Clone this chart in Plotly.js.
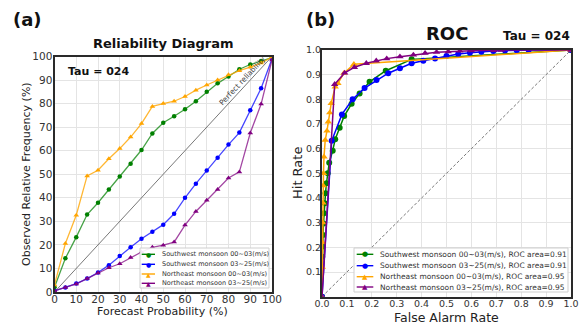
<!DOCTYPE html>
<html>
<head>
<meta charset="utf-8">
<script src="https://cdn.plot.ly/plotly-3.0.1.min.js"></script>
<style>html,body{margin:0;padding:0;background:#fff;}#chart{width:588px;height:324px;}</style>
</head>
<body>
<div id="chart"></div>
<script>
// ---------- data ----------
const seriesNames = ['Southwest monsoon 00~03(m/s)', 'Southwest monsoon 03~25(m/s)', 'Northeast monsoon 00~03(m/s)', 'Northeast monsoon 03~25(m/s)'];
const rocAreas = ['0.91', '0.91', '0.95', '0.95'];

// Reliability diagram (forecast probability %, observed relative frequency %)
const relProb = [0, 5, 10, 15, 20, 25, 30, 35, 40, 45, 50, 55, 60, 65, 70, 75, 80, 85, 90, 95, 100];
const relSW0003 = [2, 14.3, 23.3, 32.9, 37.9, 43.5, 49.0, 54.5, 60.3, 67.3, 71.9, 74.6, 77.6, 81.0, 85.0, 88.6, 91.5, 94.6, 96.6, 98.1, 99.5];
const relSW0325 = [0.5, 1.9, 3.6, 5.7, 8.3, 11.4, 15.3, 19.0, 22.6, 25.6, 28.6, 33.2, 40.0, 46.0, 51.6, 57.0, 62.6, 67.7, 77.2, 86.5, 99.0];
const relNE0003 = [3, 20.6, 32.6, 49.3, 51.7, 56.6, 60.9, 65.8, 71.5, 78.8, 80.0, 81.0, 83.0, 85.7, 87.9, 90.0, 92.2, 94.0, 95.5, 97.2, 99.8];
const relNE0325 = [0.5, 1.9, 3.4, 5.7, 8.1, 10.3, 12.0, 14.6, 17.0, 19.0, 19.9, 21.2, 28.4, 34.2, 39.0, 43.5, 48.4, 51.0, 67.5, 79.8, 98.5];

// ROC curves (false alarm rate, hit rate)
const rocFarSW0003 = [0, 0.001, 0.002, 0.004, 0.006, 0.008, 0.011, 0.014, 0.018, 0.023, 0.029, 0.043, 0.053, 0.071, 0.089, 0.119, 0.151, 0.191, 0.256, 0.36, 1.0];
const rocHitSW0003 = [0, 0.162, 0.203, 0.25, 0.297, 0.338, 0.379, 0.419, 0.46, 0.5, 0.543, 0.592, 0.638, 0.685, 0.732, 0.782, 0.824, 0.871, 0.916, 0.962, 1.0];
const rocFarSW0325 = [0, 0.039, 0.08, 0.123, 0.171, 0.219, 0.266, 0.313, 0.36, 0.407, 0.454, 0.5, 0.547, 0.594, 0.64, 0.688, 0.735, 0.782, 0.83, 1.0];
const rocHitSW0325 = [0, 0.632, 0.739, 0.80, 0.846, 0.878, 0.906, 0.926, 0.946, 0.956, 0.966, 0.976, 0.984, 0.989, 0.993, 0.996, 0.998, 0.999, 1.0, 1.0];
const rocFarNE0003 = [0, 0.001, 0.002, 0.003, 0.004, 0.005, 0.006, 0.008, 0.013, 0.02, 0.025, 0.031, 0.037, 0.053, 0.064, 0.088, 0.128, 1.0];
const rocHitNE0003 = [0, 0.12, 0.22, 0.3, 0.38, 0.45, 0.5, 0.567, 0.635, 0.672, 0.709, 0.746, 0.784, 0.851, 0.865, 0.906, 0.942, 1.0];
const rocFarNE0325 = [0, 0.051, 0.091, 0.13, 0.178, 0.218, 0.26, 0.313, 0.367, 0.414, 0.46, 0.507, 0.554, 0.6, 0.69, 0.72, 1.0];
const rocHitNE0325 = [0, 0.861, 0.907, 0.93, 0.946, 0.956, 0.965, 0.973, 0.98, 0.987, 0.991, 0.993, 0.996, 0.997, 0.999, 1.0, 1.0];

const relTicks = [0, 10, 20, 30, 40, 50, 60, 70, 80, 90, 100];
const rocXTicks = [0, 0.1, 0.2, 0.3, 0.4, 0.5, 0.6, 0.7, 0.8, 0.9, 1.0];
const rocYTicks = [0.1, 0.2, 0.3, 0.4, 0.5, 0.6, 0.7, 0.8, 0.9, 1.0];

// ---------- styles ----------
const colors = ['#008000', '#0000ff', '#ffa500', '#800080'];
const lineColorsRel = ['rgba(0,128,0,0.72)', 'rgba(0,0,255,0.72)', 'rgba(255,165,0,0.8)', 'rgba(128,0,128,0.72)'];
const symbols = ['circle', 'circle', 'triangle-up', 'triangle-up'];
const glyphs = ['\u25CF', '\u25CF', '\u25B2', '\u25B2'];

const W = 588, H = 324;
const px = v => v / W;
const py = v => 1 - v / H;
const FONT = 'DejaVu Sans';

const relY = [relSW0003, relSW0325, relNE0003, relNE0325];
const rocX = [rocFarSW0003, rocFarSW0325, rocFarNE0003, rocFarNE0325];
const rocY = [rocHitSW0003, rocHitSW0325, rocHitNE0003, rocHitNE0325];

const traces = [];
relY.forEach((ys, i) => {
  traces.push({
    x: relProb, y: ys, type: 'scatter', mode: 'lines+markers', name: seriesNames[i],
    xaxis: 'x', yaxis: 'y', showlegend: false,
    line: {color: lineColorsRel[i], width: 1.3},
    marker: {color: colors[i], size: symbols[i] === 'circle' ? 4.5 : 5, symbol: symbols[i]}
  });
});
rocX.forEach((xs, i) => {
  traces.push({
    x: xs, y: rocY[i], type: 'scatter', mode: 'lines+markers',
    name: seriesNames[i] + ', ROC area=' + rocAreas[i],
    xaxis: 'x2', yaxis: 'y2', showlegend: false,
    line: {color: colors[i], width: 1.5},
    marker: {color: colors[i], size: symbols[i] === 'circle' ? 6 : 6.5, symbol: symbols[i]}
  });
});

const axisCommon = {
  showline: true, mirror: true, linecolor: '#2a2a2a', linewidth: 2,
  showgrid: true, gridcolor: '#e4e4e4', gridwidth: 1, zeroline: false,
  ticks: '', fixedrange: true
};

const shapes = [
  // perfect reliability / no-skill diagonals
  {type: 'line', xref: 'x', yref: 'y', x0: 0, y0: 0, x1: 100, y1: 100, layer: 'between',
   line: {color: '#555', width: 0.8}},
  {type: 'line', xref: 'x2', yref: 'y2', x0: 0, y0: 0, x1: 1, y1: 1, layer: 'between',
   line: {color: '#555', width: 0.8, dash: '3px,2px'}}
];

const annotations = [
  {text: '(a)', x: px(27.5), y: py(19.5), font: {size: 18, weight: 'bold'}},
  {text: '(b)', x: px(320), y: py(19.5), font: {size: 18, weight: 'bold'}},
  {text: 'Reliability Diagram', x: px(163), y: py(43), font: {size: 13, weight: 'bold'}},
  {text: 'ROC', x: px(446.7), y: py(33.7), font: {size: 18, weight: 'bold'}},
  {text: 'Tau = 024', x: px(571.7), y: py(36.5), xanchor: 'right', font: {size: 12, weight: 'bold'}},
  {text: 'Tau = 024', x: px(65.7), y: py(71.5), xanchor: 'left', font: {size: 11, weight: 'bold'}},
  {text: 'Forecast Probability (%)', x: px(163), y: py(311.5), font: {size: 11, color: '#222'}},
  {text: 'Observed Relative Frequency (%)', x: px(26), y: py(174), textangle: -90, font: {size: 11, color: '#222'}},
  {text: 'False Alarm Rate', x: px(446.5), y: py(317), font: {size: 12.5, color: '#222'}},
  {text: 'Hit Rate', x: px(297), y: py(173), textangle: -90, font: {size: 13, color: '#222'}},
  {text: 'Perfect reliability', xref: 'x', yref: 'y', x: 86.4, y: 90.0, textangle: -47,
   font: {size: 7.5, color: '#444'}}
].map(a => Object.assign({xref: 'paper', yref: 'paper', showarrow: false, xanchor: 'center', yanchor: 'middle'}, a,
  {font: Object.assign({family: FONT, color: '#111'}, a.font)}));

// custom compact legends (matplotlib-style)
function addLegend(box, keyX1, keyX2, textX, rowsY, labels, fontSize, glyphSize) {
  shapes.push({type: 'rect', xref: 'paper', yref: 'paper', layer: 'above',
    x0: px(box[0]), x1: px(box[1]), y0: py(box[2]), y1: py(box[3]),
    fillcolor: 'rgba(255,255,255,0.9)', line: {color: '#cfcfcf', width: 1}});
  labels.forEach((lab, i) => {
    shapes.push({type: 'line', xref: 'paper', yref: 'paper', layer: 'above',
      x0: px(keyX1), x1: px(keyX2), y0: py(rowsY[i]), y1: py(rowsY[i]),
      line: {color: colors[i], width: 1.4}});
    annotations.push({text: glyphs[i], xref: 'paper', yref: 'paper', showarrow: false,
      x: px((keyX1 + keyX2) / 2), y: py(rowsY[i]), xanchor: 'center', yanchor: 'middle',
      font: {family: FONT, size: glyphSize, color: colors[i]}});
    annotations.push({text: lab, xref: 'paper', yref: 'paper', showarrow: false,
      x: px(textX), y: py(rowsY[i]), xanchor: 'left', yanchor: 'middle',
      font: {family: FONT, size: fontSize, color: '#333'}});
  });
}
addLegend([140, 269, 248, 288], 141.7, 155, 159.5, [254.3, 264.3, 274, 283.3], seriesNames, 6.5, 6);
addLegend([354, 568, 248, 292], 356.7, 373.3, 378, [254.3, 265.7, 276.7, 287],
  seriesNames.map((n, i) => n + ', ROC area=' + rocAreas[i]), 7.5, 7);

const layout = {
  width: W, height: H, autosize: false,
  margin: {l: 0, r: 0, t: 0, b: 0, pad: 0},
  paper_bgcolor: '#ffffff', plot_bgcolor: '#ffffff',
  font: {family: FONT, color: '#333'},
  showlegend: false,
  xaxis: Object.assign({}, axisCommon, {domain: [px(54.5), px(272)], range: [0, 100], tickvals: relTicks,
    ticktext: relTicks.map(String), tickfont: {size: 10.5, color: '#333'}, anchor: 'y', ticklabelstandoff: -4}),
  yaxis: Object.assign({}, axisCommon, {domain: [py(292), py(56.5)], range: [0, 100], tickvals: relTicks,
    ticktext: relTicks.map(String), tickfont: {size: 10.5, color: '#333'}, anchor: 'x', ticklabelstandoff: -2}),
  xaxis2: Object.assign({}, axisCommon, {domain: [px(322), px(571)], range: [0, 1], tickvals: rocXTicks,
    ticktext: rocXTicks.map(v => v.toFixed(1)), tickfont: {size: 9.5, color: '#333'}, anchor: 'y2', ticklabelstandoff: -3}),
  yaxis2: Object.assign({}, axisCommon, {domain: [py(296.7), py(50)], range: [0, 1], tickvals: rocYTicks,
    ticktext: rocYTicks.map(v => v.toFixed(1)), tickfont: {size: 9.5, color: '#333'}, anchor: 'x2', ticklabelstandoff: -3}),
  shapes: shapes,
  annotations: annotations
};

Plotly.newPlot('chart', traces, layout, {staticPlot: true, displayModeBar: false});
</script>
</body>
</html>
